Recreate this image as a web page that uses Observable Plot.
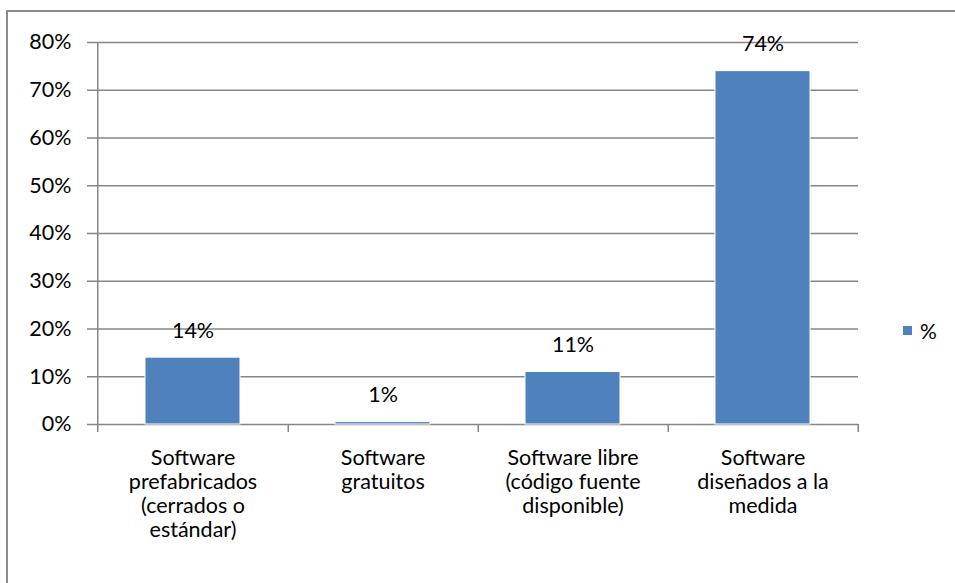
<!DOCTYPE html>
<html>
<head>
<meta charset="utf-8">
<script src="https://cdn.jsdelivr.net/npm/d3@7"></script>
<script src="https://cdn.jsdelivr.net/npm/@observablehq/plot@0.6"></script>
<style>
  html, body { margin: 0; padding: 0; background: #fff; }
  #wrap { position: relative; width: 955px; height: 583px; overflow: hidden; font-family: Lato, "Open Sans", sans-serif; }
  #border { position: absolute; left: 6px; top: 10px; width: 1000px; height: 700px; border: 2px solid #8c8c8c; box-sizing: border-box; }
  #chart { position: absolute; left: 0; top: 0; }
  #legend { position: absolute; left: 903px; top: 318px; display: flex; align-items: center; font-size: 21px; color: #000; }
  #legend .sw { width: 9px; height: 9px; background: #4F81BD; margin-right: 8px; }
</style>
</head>
<body>
<div id="wrap">
  <div id="border"></div>
  <div id="chart"></div>
  <div id="legend"><div class="sw"></div><span id="legendLabel"></span></div>
</div>
<script>
const categories = ["prefabricados", "gratuitos", "libre", "medida"];
const tickLabels = [
  "Software\nprefabricados\n(cerrados o\nestándar)",
  "Software\ngratuitos",
  "Software libre\n(código fuente\ndisponible)",
  "Software\ndiseñados a la\nmedida"
];
const values = [0.14, 0.005, 0.11, 0.74];
const valueLabels = ["14%", "1%", "11%", "74%"];
const yTicks = [0, 0.1, 0.2, 0.3, 0.4, 0.5, 0.6, 0.7, 0.8];
const seriesName = "%";

const W = 955, H = 583, ML = 96, MR = 97, MT = 42, MB = 159;
const FS = 21.5;
const step = (W - ML - MR) / categories.length;
const data = categories.map((c, i) => ({cat: c, value: values[i], label: valueLabels[i], tick: tickLabels[i]}));
const tickMap = new Map(data.map(d => [d.cat, d.tick]));
const grid = "#868686";

const chart = Plot.plot({
  width: W, height: H,
  marginLeft: ML, marginRight: MR, marginTop: MT, marginBottom: MB,
  style: {fontFamily: "Lato, 'Open Sans', sans-serif", fontSize: FS + "px", color: "#000", background: "transparent"},
  x: {domain: categories, paddingInner: 0.5, paddingOuter: 0.25, label: null},
  y: {domain: [0, 0.8], label: null},
  marks: [
    Plot.ruleY(yTicks, {stroke: grid, strokeWidth: 1.5, insetLeft: -9}),
    Plot.ruleX([categories[0]], {dx: -step / 2, stroke: grid, strokeWidth: 1.5, insetBottom: -8}),
    Plot.ruleX(categories, {x: d => d, dx: step / 2, y1: 0, y2: 0, insetBottom: -8, stroke: grid, strokeWidth: 1.5}),
    Plot.barY(data, {x: "cat", y: "value", fill: "#4F81BD", stroke: "#fff", strokeWidth: 1}),
    Plot.text(data, {x: "cat", y: "value", text: "label", dy: -27, fontSize: FS, fill: "#000"}),
    Plot.axisY({ticks: yTicks, tickFormat: d3.format(".0%"), tickSize: 0, tickPadding: 25, fontSize: FS, fill: "#000"}),
    Plot.axisX({tickSize: 0, tickPadding: 23, tickFormat: d => tickMap.get(d), lineHeight: 24 / FS, fontSize: FS, fill: "#000"})
  ]
});
document.getElementById("chart").appendChild(chart);
document.getElementById("legendLabel").textContent = seriesName;
</script>
</body>
</html>
